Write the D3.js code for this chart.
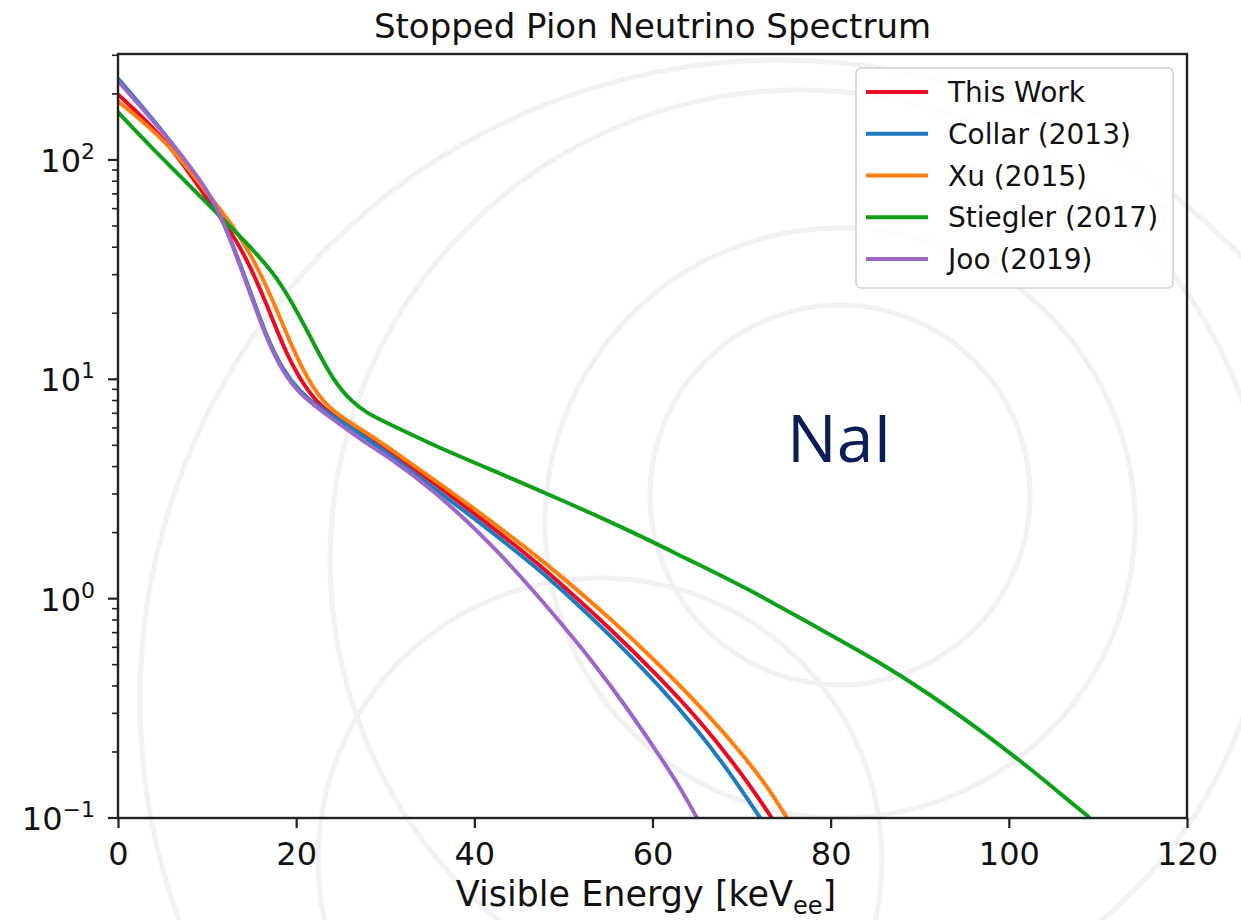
<!DOCTYPE html>
<html><head><meta charset="utf-8">
<script src="https://cdn.jsdelivr.net/npm/d3@7"></script>
<style>body{margin:0;background:#fff}</style>
</head><body><svg id="c" width="1241" height="920"></svg>
<script>
// ---- data (keV_ee, counts) ----
const seriesNames = ["This Work", "Collar (2013)", "Xu (2015)", "Stiegler (2017)", "Joo (2019)"];
const seriesColors = ["#ec0a22", "#1f7bbf", "#ff7f0e", "#0fa01a", "#9b68c8"];
const thisWork = [[0,199],[5.5,124],[10,66],[12.9,46],[14.8,33],[16.7,22],[18.5,14.2],[20.4,10.0],[22.3,7.86],[24.1,6.81],[27.9,5.5],[31.7,4.35],[39.1,2.62],[46.6,1.51],[49.6,1.18],[55.2,0.735],[60.8,0.438],[65.3,0.278],[69.0,0.18],[71.3,0.134],[73.4,0.1]];
const collar2013 = [[0,235],[5.5,129],[9.2,80],[11.1,61],[12.9,41],[14.8,25.5],[16.7,15.5],[18.5,11.0],[20.4,8.8],[22.3,7.56],[24.1,6.81],[27.9,5.4],[31.7,4.15],[39.1,2.48],[46.6,1.43],[49.6,1.12],[55.2,0.686],[60.8,0.40],[65.3,0.245],[68.4,0.167],[72.1,0.1]];
const xu2015 = [[0,185],[5.5,122],[10.3,68.4],[12.9,50],[14.8,38],[17.4,23.1],[19.6,13.7],[21.9,9.0],[24.1,7.07],[27.9,5.73],[31.7,4.47],[39.1,2.75],[46.6,1.61],[49.6,1.28],[55.2,0.817],[60.8,0.50],[66.45,0.29],[70.2,0.193],[72.85,0.14],[75.1,0.1]];
const stiegler2017 = [[0,165],[3.6,115.6],[9.2,68.4],[14.8,40.5],[17.8,29.6],[20.4,19.4],[22.3,13.7],[24.1,10.0],[26.2,7.9],[28.0,7.0],[29.75,6.45],[35.4,5.0],[42.9,3.72],[50.4,2.75],[57.8,2.01],[63.9,1.514],[70.2,1.14],[78.8,0.726],[85.5,0.514],[91.15,0.366],[96.8,0.251],[102.4,0.168],[106.1,0.126],[109.1,0.1]];
const joo2019 = [[0,229],[5.5,128.3],[9.2,81.5],[11.1,61.6],[12.9,40.5],[14.8,24.9],[16.7,15.2],[18.5,10.8],[20.4,8.5],[24.1,6.57],[27.9,5.1],[29.75,4.6],[35.4,3.15],[42.9,1.63],[50.0,0.752],[53.3,0.515],[57.1,0.32],[60.8,0.192],[63.1,0.138],[65.0,0.1]];
const allSeries = [thisWork, collar2013, xu2015, stiegler2017, joo2019];
const xTicks = [0, 20, 40, 60, 80, 100, 120];
const yMajorExp = [-1, 0, 1, 2];
const titleText = "Stopped Pion Neutrino Spectrum";
const materialLabel = "NaI";

// ---- layout ----
const L = 118, R = 1187, T = 54, B = 818;
const svg = d3.select("#c");
const x = d3.scaleLinear().domain([0, 120]).range([L, R]);
const y = d3.scaleLog().domain([0.1, Math.pow(10, 2.483)]).range([B, T]);

// watermark (faint logo arcs)
const wm = svg.append("g").attr("fill", "none").attr("stroke", "#f1f1f4").attr("stroke-width", 5);
[[840,495,190],[840,523,295],[800,560,470],[600,860,282],[780,700,640]].forEach(c =>
  wm.append("circle").attr("cx", c[0]).attr("cy", c[1]).attr("r", c[2]));

// NaI label
svg.append("text").attr("x", 787).attr("y", 462).attr("font-family", "'Open Sans', Lato, sans-serif")
  .attr("font-size", 66).attr("fill", "#0b1d57").text(materialLabel);

// clip
svg.append("clipPath").attr("id", "clip").append("rect")
  .attr("x", L).attr("y", T).attr("width", R - L).attr("height", B - T);

const line = d3.line().x(d => x(d[0])).y(d => y(d[1])).curve(d3.curveBasis);
const plotG = svg.append("g").attr("clip-path", "url(#clip)");
allSeries.forEach((s, i) => {
  plotG.append("path").datum(s).attr("d", line).attr("fill", "none")
    .attr("stroke", seriesColors[i]).attr("stroke-width", 4).attr("stroke-linejoin", "round");
});

const axisColor = "#222";
// x ticks
const xAxis = d3.axisBottom(x).tickValues(xTicks).tickSize(10).tickFormat(d3.format("d"));
const gx = svg.append("g").attr("transform", `translate(0,${B})`).call(xAxis);
gx.select(".domain").remove();
gx.selectAll("line").attr("stroke", axisColor).attr("stroke-width", 2.2);
gx.selectAll("text").attr("font-family", "DejaVu Sans").attr("font-size", 32).attr("fill", "#111")
  .attr("dy", null).attr("y", 47);

// y ticks
const minor = [];
for (let e = -1; e <= 2; e++) for (let m = 2; m <= 9; m++) { const v = m * Math.pow(10, e); if (v <= y.domain()[1]) minor.push(v); }
const gy = svg.append("g");
gy.selectAll("line.minor").data(minor).join("line").attr("class", "minor")
  .attr("x1", L - 6).attr("x2", L).attr("y1", d => y(d)).attr("y2", d => y(d))
  .attr("stroke", axisColor).attr("stroke-width", 1.6);
gy.selectAll("line.major").data(yMajorExp).join("line").attr("class", "major")
  .attr("x1", L - 10).attr("x2", L).attr("y1", d => y(Math.pow(10, d))).attr("y2", d => y(Math.pow(10, d)))
  .attr("stroke", axisColor).attr("stroke-width", 2.2);
const yl = gy.selectAll("text").data(yMajorExp).join("text")
  .attr("x", 95).attr("y", d => y(Math.pow(10, d)) + 12).attr("text-anchor", "end")
  .attr("font-family", "DejaVu Sans").attr("font-size", 32).attr("fill", "#111");
yl.append("tspan").text("10");
yl.append("tspan").attr("dy", -13).attr("font-size", 22).text(d => d < 0 ? "\u2212" + (-d) : d);

// spines
svg.append("rect").attr("x", L).attr("y", T).attr("width", R - L).attr("height", B - T)
  .attr("fill", "none").attr("stroke", axisColor).attr("stroke-width", 2.4);

// title
svg.append("text").attr("x", (L + R) / 2).attr("y", 38).attr("text-anchor", "middle")
  .attr("font-family", "DejaVu Sans").attr("font-size", 34).attr("fill", "#111").text(titleText);

// x label
const xl = svg.append("text").attr("x", 646).attr("y", 906).attr("text-anchor", "middle")
  .attr("font-family", "DejaVu Sans").attr("font-size", 35).attr("fill", "#111");
xl.append("tspan").text("Visible Energy [keV");
xl.append("tspan").attr("dy", 8).attr("font-size", 24).text("ee");
xl.append("tspan").attr("dy", -8).text("]");

// legend
const lg = svg.append("g");
lg.append("rect").attr("x", 856).attr("y", 68).attr("width", 317).attr("height", 220).attr("rx", 5)
  .attr("fill", "#fff").attr("fill-opacity", 0.85).attr("stroke", "#d0d0d0").attr("stroke-width", 1.5);
seriesNames.forEach((n, i) => {
  const cy = 92 + i * 41.75;
  lg.append("line").attr("x1", 866).attr("x2", 928).attr("y1", cy).attr("y2", cy)
    .attr("stroke", seriesColors[i]).attr("stroke-width", 4);
  lg.append("text").attr("x", 948).attr("y", cy + 10).attr("font-family", "DejaVu Sans")
    .attr("font-size", 28).attr("fill", "#111").text(n);
});
</script></body></html>
